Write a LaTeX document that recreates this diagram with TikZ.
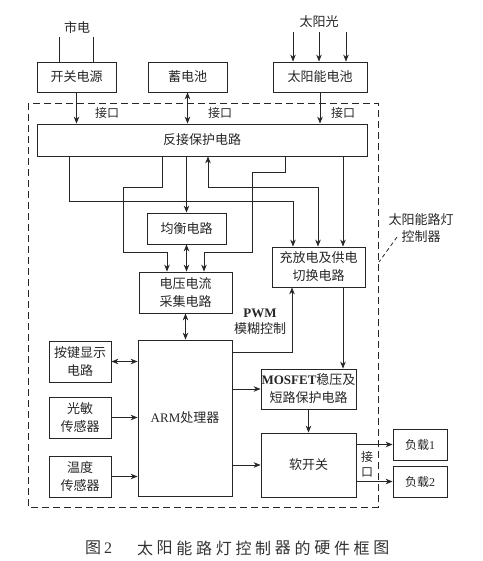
\documentclass[tikz,border=0pt]{standalone}
\usepackage{fontspec}
\setmainfont{Noto Sans CJK SC}
\newfontfamily\lat{Liberation Serif}
\usetikzlibrary{arrows.meta}

\begin{document}
\begin{tikzpicture}[x=1pt,y=-1pt,
  box/.style={draw=black!85, line width=0.8pt, align=center, inner sep=0pt,
    text=black!85, font=\fontsize{13}{18}\selectfont},
  lbl/.style={inner sep=0pt, align=center, text=black!85, font=\fontsize{12}{15}\selectfont},
  wire/.style={draw=black!85, line width=0.8pt},
  arr/.style={wire, -{Stealth[length=7pt,width=5.5pt]}},
  darr/.style={wire, {Stealth[length=7pt,width=5.5pt]}-{Stealth[length=7pt,width=5.5pt]}}]
\useasboundingbox (0,0) rectangle (482,561);

% sources
\node[box, minimum width=79pt, minimum height=30pt] (kgdy) at (76.5,77) {开关电源};
\node[box, minimum width=79pt, minimum height=30pt] (xdc) at (187.5,77) {蓄电池};
\node[box, minimum width=94pt, minimum height=30pt] (tyn) at (320,77) {太阳能电池};
\node[lbl, font=\fontsize{13}{15}\selectfont] (sd) at (77,27) {市电};
\node[lbl, font=\fontsize{13}{15}\selectfont] (tyg) at (319,22) {太阳光};
\coordinate (sd1) at (59,37);
\coordinate (sd2) at (93,37);
\draw[wire] (sd1) -- (kgdy.north -| sd1);
\draw[wire] (sd2) -- (kgdy.north -| sd2);
\foreach \x in {293,319,346} {
  \coordinate (sun) at (\x,32);
  \draw[arr] (sun) -- (tyn.north -| sun);
}

% controller frame
\draw[wire, dash pattern=on 7pt off 4pt] (28,103) rectangle (378,507);
\node[lbl, font=\fontsize{13}{17}\selectfont] (ctl) at (421,228.5) {太阳能路灯\\控制器};
\coordinate (ld1) at (397,237);
\coordinate (ld2) at (379,262);
\draw[wire, dash pattern=on 4pt off 3pt] (ld1) -- (ld2);

% inner blocks
\node[box, minimum width=330pt, minimum height=32pt] (fj) at (202,140) {反接保护电路};
\node[box, minimum width=79pt, minimum height=31pt] (jh) at (186.5,228.5) {均衡电路};
\node[box, minimum width=93pt, minimum height=41pt] (dy) at (185.5,292.5) {电压电流\\采集电路};
\node[box, minimum width=93pt, minimum height=40pt] (cf) at (318.5,267) {充放电及供电\\切换电路};
\node[box, minimum width=94pt, minimum height=156pt] (arm) at (185,418) {{\lat ARM}处理器};
\node[box, minimum width=62pt, minimum height=41pt] (aj) at (80,361.5) {按键显示\\电路};
\node[box, minimum width=62pt, minimum height=41pt] (gm) at (80,417.5) {光敏\\传感器};
\node[box, minimum width=62pt, minimum height=41pt] (wd) at (80,476.5) {温度\\传感器};
\node[box, minimum width=95pt, minimum height=40pt] (mos) at (308.5,389) {{\lat\bfseries MOSFET}稳压及\\短路保护电路};
\node[box, minimum width=95pt, minimum height=64pt] (rkg) at (308.5,465) {软开关};
\node[box, minimum width=54pt, minimum height=31pt, font=\fontsize{12}{14}\selectfont] (fz1) at (420,444.5) {负载{\lat 1}};
\node[box, minimum width=54pt, minimum height=31pt, font=\fontsize{12}{14}\selectfont] (fz2) at (420,481.5) {负载{\lat 2}};

% interface labels
\node[lbl] (jk1) at (107,113) {接口};
\node[lbl] (jk2) at (220,113) {接口};
\node[lbl] (jk3) at (343,113) {接口};
\node[lbl] (jk4) at (367,464.5) {接\\口};
\node[lbl, font=\fontsize{13}{16}\selectfont] (pwm) at (260,322) {{\lat\bfseries PWM}\\模糊控制};

% inputs to protection circuit
\draw[arr] (kgdy.south) -- (fj.north -| kgdy.south);
\draw[darr] (xdc.south) -- (fj.north -| xdc.south);
\draw[arr] (tyn.south) -- (fj.north -| tyn.south);

% protection circuit outputs
\draw[arr] (fj.south -| 69,0) -- (69,201) -- (293,201) -- (cf.north -| 293,0);
\draw[arr] (fj.south -| 162,0) -- (162,187) -- (123,187) -- (123,252) -- (167,252) -- (dy.north -| 167,0);
\draw[arr] (fj.south -| jh.north) -- (jh.north);
\draw[darr] (fj.south -| 208,0) -- (208,187) -- (318,187) -- (cf.north -| 318,0);
\draw[arr] (fj.south -| 285,0) -- (285,172) -- (252,172) -- (252,252) -- (204,252) -- (dy.north -| 204,0);
\draw[arr] (fj.south -| 343,0) -- (cf.north -| 343,0);

% measurement and processor
\draw[darr] (jh.south) -- (dy.north -| jh.south);
\draw[darr] (dy.south) -- (arm.north -| dy.south);
\draw[darr] (aj.east) -- (arm.west |- aj.east);
\draw[arr] (gm.east) -- (arm.west |- gm.east);
\draw[arr] (wd.east) -- (arm.west |- wd.east);
\draw[arr] (arm.east |- 0,352) -- (292,352) -- (cf.south -| 292,0);

% output stage
\draw[arr] (cf.south -| 343,0) -- (mos.north -| 343,0);
\draw[arr] (arm.east |- mos.west) -- (mos.west);
\draw[arr] (mos.south) -- (rkg.north);
\draw[arr] (arm.east |- rkg.west) -- (rkg.west);
\draw[arr] (rkg.east |- fz1.west) -- (fz1.west);
\draw[arr] (rkg.east |- fz2.west) -- (fz2.west);

% caption
\node[lbl, text=black!80, font=\fontsize{16}{18}\selectfont] (fig) at (98.5,548) {图\hspace{3pt}{\lat 2}};
\foreach \c [count=\i from 0] in {太,阳,能,路,灯,控,制,器,的,硬,件,框,图}
  \node[lbl, text=black!80, font=\fontsize{16}{18}\selectfont] (cap\i) at (145+19.7*\i,548) {\c};
\end{tikzpicture}
\end{document}
